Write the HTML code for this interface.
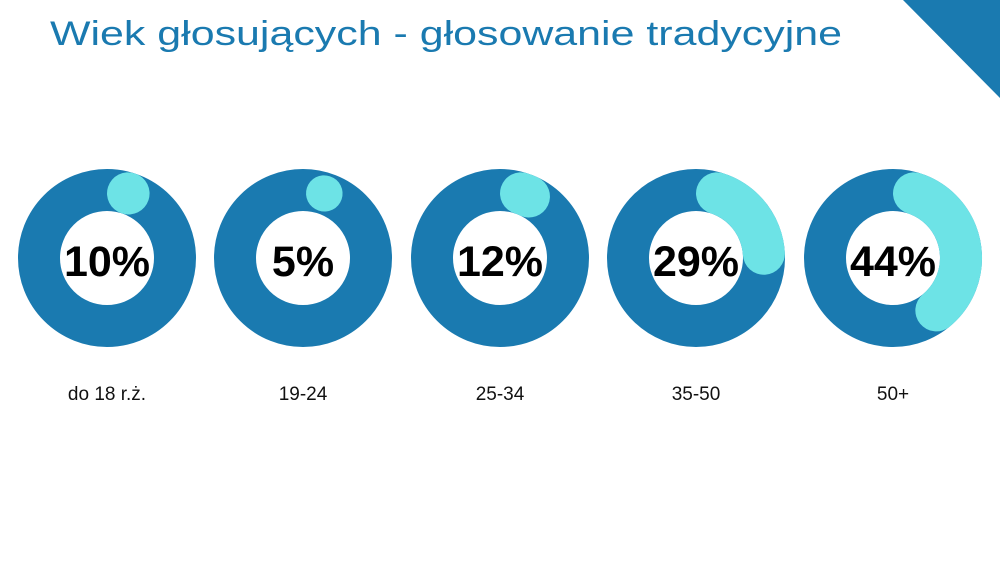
<!DOCTYPE html>
<html><head><meta charset="utf-8"><style>
html,body{margin:0;padding:0;background:#fff;}
body{width:1000px;height:563px;overflow:hidden;position:relative;font-family:"Liberation Sans",sans-serif;}
</style></head><body>
<svg width="1000" height="563" xmlns="http://www.w3.org/2000/svg" style="position:absolute;left:0;top:0">
<polygon points="903,0 1000,0 1000,98" fill="#1a7ab0"/>
<text x="50" y="45" font-family="Liberation Sans, sans-serif" font-size="34" fill="#1a7ab0" textLength="792" lengthAdjust="spacingAndGlyphs">Wiek głosujących - głosowanie tradycyjne</text>
<g id="d"></g>
</svg>
<script>
var cx=[107,303,500,696,893],p=[10,5,12,29,44],lab=["do 18 r.ż.","19-24","25-34","35-50","50+"];
var g=document.getElementById('d'),h='';
for(var i=0;i<5;i++){
 var x=cx[i],y=258,r=68;
 h+='<circle cx="'+x+'" cy="'+y+'" r="'+r+'" fill="none" stroke="#1a7ab0" stroke-width="42"/>';
 var sw=(p[i]==5)?36:42;
 var a0=18,a1=Math.max(a0+0.5,p[i]*3.6-18);
 var s=a0*Math.PI/180,e=a1*Math.PI/180;
 var x0=x+r*Math.sin(s),y0=y-r*Math.cos(s),x1=x+r*Math.sin(e),y1=y-r*Math.cos(e);
 h+='<path d="M'+x0+' '+y0+' A'+r+' '+r+' 0 '+((a1-a0)>180?1:0)+' 1 '+x1+' '+y1+'" fill="none" stroke="#6de3e6" stroke-width="'+sw+'" stroke-linecap="round"/>';
 h+='<text x="'+x+'" y="276" text-anchor="middle" font-family="Liberation Sans, sans-serif" font-weight="bold" font-size="43" fill="#000">'+p[i]+'%</text>';
 h+='<text x="'+x+'" y="400" text-anchor="middle" font-family="Liberation Sans, sans-serif" font-size="19" fill="#111">'+lab[i]+'</text>';
}
g.innerHTML=h;
</script>
</body></html>
